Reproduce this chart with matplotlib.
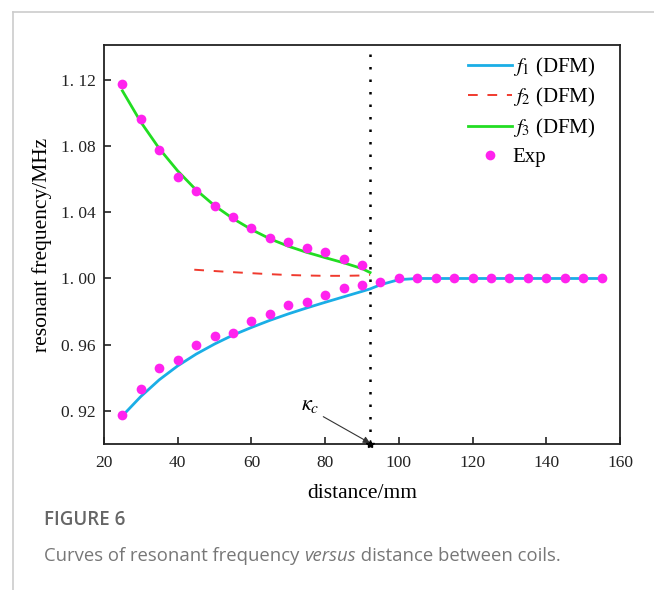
import numpy as np
import matplotlib
matplotlib.use('Agg')
import matplotlib.pyplot as plt
from matplotlib.lines import Line2D

plt.rcParams['font.family'] = ['Liberation Serif', 'DejaVu Serif']
plt.rcParams['mathtext.fontset'] = 'stix'

### Data
exp_x = [25, 30, 35, 40, 45, 50, 55, 60, 65, 70, 75, 80, 85, 90,
         95, 100, 105, 110, 115, 120, 125, 130, 135, 140, 145, 150, 155]
exp_upper = [1.1178, 1.0965, 1.0776, 1.0615, 1.0526, 1.0437, 1.0373, 1.0308,
             1.0245, 1.0222, 1.0182, 1.016, 1.012, 1.008]
exp_lower = [0.9176, 0.933, 0.9457, 0.9506, 0.9596, 0.965, 0.967, 0.9746,
             0.9786, 0.9842, 0.986, 0.990, 0.994, 0.996,
             0.998, 1.000, 1.000, 1.000, 1.000, 1.000, 1.000, 1.000, 1.000,
             1.000, 1.000, 1.000, 1.000]

f1_x = [25, 30, 35, 40, 45, 50, 55, 60, 65, 70, 75, 80, 85, 90, 92.2,
        95, 100, 105, 110, 120, 130, 140, 150, 155]
f1_y = [0.917, 0.9287, 0.9388, 0.9472, 0.9543, 0.9604, 0.9658, 0.9704,
        0.9747, 0.9786, 0.9822, 0.9856, 0.9889, 0.9922, 0.9937,
        0.9962, 0.9993, 1.0, 1.0, 1.0, 1.0, 1.0, 1.0, 1.0]

f2_x = [44.5, 50, 55, 60, 65, 70, 75, 80, 85, 90, 92.2]
f2_y = [1.0053, 1.0045, 1.0038, 1.0032, 1.0026, 1.0021, 1.0018, 1.0016,
        1.0016, 1.0018, 1.0022]

f3_x = [25, 30, 35, 40, 45, 50, 55, 60, 65, 70, 75, 80, 85, 90, 92.2]
f3_y = [1.1134, 1.0945, 1.0785, 1.0650, 1.0535, 1.0440, 1.0362, 1.0296,
        1.0240, 1.0195, 1.0158, 1.0126, 1.0095, 1.0060, 1.0036]

kappa_c = 92.2

x_ticks = [20, 40, 60, 80, 100, 120, 140, 160]
y_ticks = [0.92, 0.96, 1.00, 1.04, 1.08, 1.12]
y_ticklabels = ['0. 92', '0. 96', '1. 00', '1. 04', '1. 08', '1. 12']

### Figure
fig = plt.figure(figsize=(6.54, 5.90), dpi=100)
ax = fig.add_axes([0.159, 0.2475, 0.789, 0.676])

c_blue, c_red, c_green, c_mag = '#1aaee6', '#f03a2e', '#22dd22', '#ff22ee'

ax.plot(f1_x, f1_y, color=c_blue, lw=2.0, zorder=3)
ax.plot(f2_x, f2_y, color=c_red, lw=1.4, ls=(0, (5, 5)), zorder=3)
ax.plot(f3_x, f3_y, color=c_green, lw=2.0, zorder=3)
ax.plot(exp_x[:len(exp_upper)], exp_upper, 'o', color=c_mag, ms=7, mew=0, zorder=4)
ax.plot(exp_x, exp_lower, 'o', color=c_mag, ms=7, mew=0, zorder=4)

ax.axvline(kappa_c, color='black', lw=1.8, ls=(0, (1, 4)), zorder=2)
ax.plot([kappa_c], [0.9], marker='*', color='black', ms=6, clip_on=False, zorder=5)
ax.annotate('', xy=(kappa_c, 0.9005), xytext=(79.5, 0.9165),
            arrowprops=dict(arrowstyle='-|>', color='#333333', lw=0.8,
                            mutation_scale=10, shrinkA=0, shrinkB=0))
ax.text(76, 0.923, r'$\kappa_c$', fontsize=16, ha='center', va='center')

ax.set_xlim(20, 160)
ax.set_ylim(0.90, 1.141)
ax.set_xticks(x_ticks)
ax.set_yticks(y_ticks)
ax.set_yticklabels(y_ticklabels)
ax.tick_params(direction='in', length=5, width=1.2, labelsize=12.5, colors='#222222')
ax.tick_params(axis='x', pad=8)
ax.tick_params(axis='y', pad=6)
for sp in ax.spines.values():
    sp.set_linewidth(1.3)
    sp.set_color('#222222')

ax.set_xlabel('distance/mm', fontsize=15.5, labelpad=9)
ax.set_ylabel('resonant frequency/MHz', fontsize=15.5, labelpad=6)

handles = [Line2D([], [], color=c_blue, lw=2.0),
           Line2D([], [], color=c_red, lw=1.4, ls=(0, (5, 5))),
           Line2D([], [], color=c_green, lw=2.0),
           Line2D([], [], ls='', marker='o', color=c_mag, ms=7, mew=0)]
labels = [r'$f_1$ (DFM)', r'$f_2$ (DFM)', r'$f_3$ (DFM)', 'Exp']
ax.legend(handles, labels, loc='upper right', bbox_to_anchor=(0.980, 1.01),
          frameon=False, fontsize=15, handlelength=2.1, handletextpad=0.05,
          labelspacing=0.36, borderaxespad=0.3)

### Outer frame and caption
fig.add_artist(Line2D([0.0199, 0.0199], [0.0, 0.98], color='#cccccc', lw=1.2))
fig.add_artist(Line2D([0.0199, 1.0], [0.98, 0.98], color='#cccccc', lw=1.2))
fig.text(0.068, 0.118, 'FIGURE 6', fontsize=13.5, color='#666666',
         fontfamily='Open Sans', fontweight='semibold', va='center')
cap_y = 0.057
t1 = fig.text(0.068, cap_y, 'Curves of resonant frequency ', fontsize=13.3,
              color='#777777', fontfamily='Open Sans', va='center')
r = fig.canvas.get_renderer()
bb = t1.get_window_extent(renderer=r)
t2 = fig.text(bb.x1 / fig.bbox.width, cap_y, 'versus', fontsize=13.3,
              color='#777777', fontfamily='Open Sans', fontstyle='italic',
              va='center')
bb2 = t2.get_window_extent(renderer=r)
fig.text(bb2.x1 / fig.bbox.width, cap_y, ' distance between coils.',
         fontsize=13.3, color='#777777', fontfamily='Open Sans', va='center')

fig.savefig('out.png', dpi=100)
